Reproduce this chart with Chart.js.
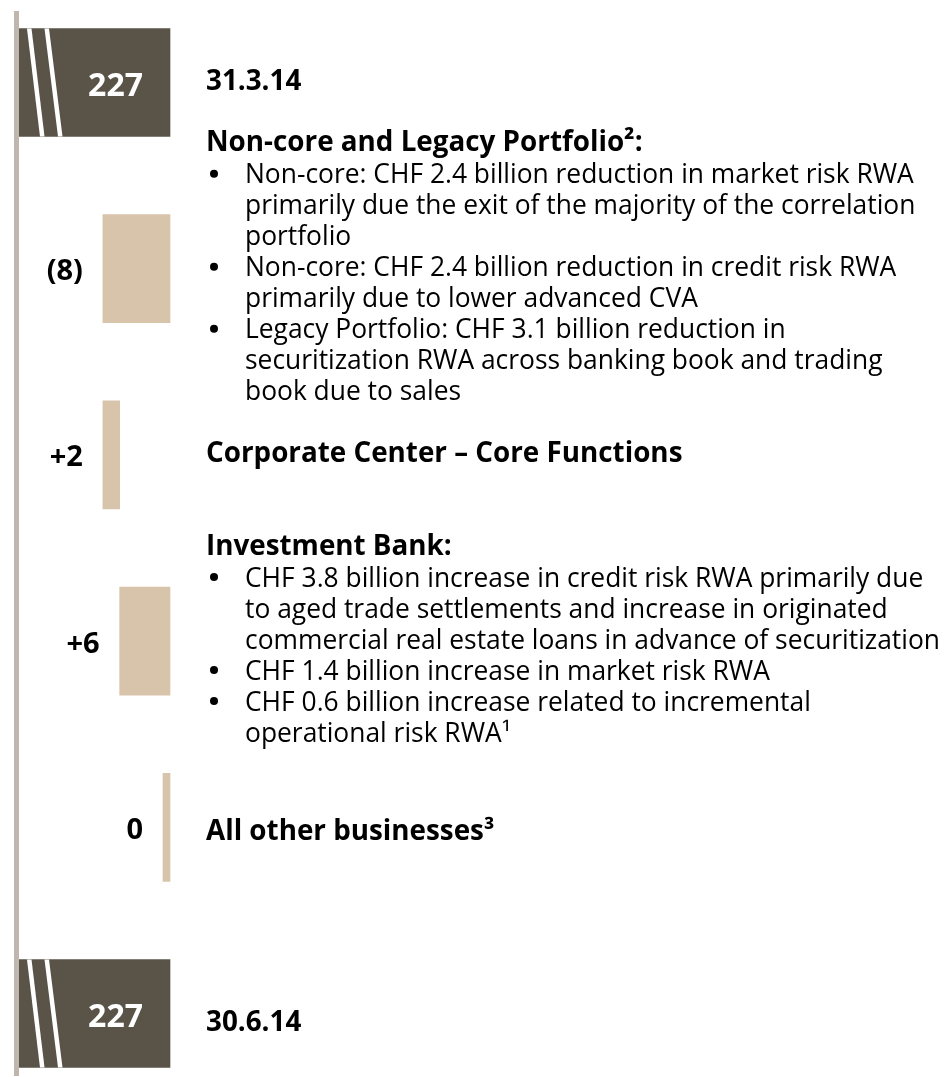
<!DOCTYPE html>
<html>
<head>
<meta charset="utf-8">
<script src="https://cdn.jsdelivr.net/npm/chart.js@4.4.1/dist/chart.umd.min.js"></script>
<style>
  html, body { margin: 0; padding: 0; background: #fff; }
  #wrap { position: relative; width: 946px; height: 1077px; }
</style>
</head>
<body>
<div id="wrap"><canvas id="rwa"></canvas></div>
<script>
// RWA movement 31.3.14 -> 30.6.14, CHF billion
const categories = ['31.3.14', 'Non-core and Legacy Portfolio', 'Corporate Center', 'Investment Bank', 'All other businesses', '30.6.14'];
const kinds = ['total', 'change', 'change', 'change', 'change', 'total'];
const values = [227, -8, 2, 6, 0, 227];
const valueLabels = ['227', '(8)', '+2', '+6', '0', '227'];
const axisStart = 209; // broken axis

const headings = [
  '31.3.14',
  'Non-core and Legacy Portfolio²:',
  'Corporate Center – Core Functions',
  'Investment Bank:',
  'All other businesses³',
  '30.6.14'
];
const bullets = [
  [],
  [
    ['Non-core: CHF 2.4 billion reduction in market risk RWA', 'primarily due the exit of the majority of the correlation', 'portfolio'],
    ['Non-core: CHF 2.4 billion reduction in credit risk RWA', 'primarily due to lower advanced CVA'],
    ['Legacy Portfolio: CHF 3.1 billion reduction in', 'securitization RWA across banking book and trading', 'book due to sales']
  ],
  [],
  [
    ['CHF 3.8 billion increase in credit risk RWA primarily due', 'to aged trade settlements and increase in originated', 'commercial real estate loans in advance of securitization'],
    ['CHF 1.4 billion increase in market risk RWA'],
    ['CHF 0.6 billion increase related to incremental', 'operational risk RWA¹']
  ],
  [],
  []
];

const totalColor = '#5a5348';
const changeColor = '#d7c4aa';
const lineColor = '#bfb6ae';
const FONT = '"Open Sans", "Noto Sans", sans-serif';
// small vertical nudges of the text blocks, as in the original slide
const textNudge = [0, 0, 0, 0, 6, 10];

// waterfall: totals are plain bars, changes float from the running total
let running = 0;
let zeroBase = null;
const barData = [];
const zeroData = [];
values.forEach((v, i) => {
  if (kinds[i] === 'total') {
    running = v;
    barData.push(v);
    zeroData.push(null);
  } else if (v === 0) {
    barData.push(null);
    zeroData.push(running);
    zeroBase = running;
  } else {
    barData.push([running, running + v]);
    zeroData.push(null);
    running += v;
  }
});
const axisEnd = Math.max(...values.filter((v, i) => kinds[i] === 'total'));

const clipSides = { left: 0, top: false, right: false, bottom: false };

function rowBar(chart, i) {
  const meta = chart.getDatasetMeta(barData[i] !== null ? 0 : 1);
  return meta.data[i].getProps(['x', 'y', 'base', 'height'], true);
}

const axisLine = {
  id: 'axisLine',
  beforeDatasetsDraw(chart) {
    const ctx = chart.ctx;
    ctx.save();
    ctx.fillStyle = lineColor;
    ctx.fillRect(chart.chartArea.left - 5, 11, 5, chart.height - 12);
    ctx.restore();
  }
};

const annotate = {
  id: 'annotate',
  afterDatasetsDraw(chart) {
    const ctx = chart.ctx;
    const area = chart.chartArea;
    ctx.save();

    categories.forEach((c, i) => {
      const b = rowBar(chart, i);
      const top = b.y - b.height / 2;
      const bottom = b.y + b.height / 2;

      if (kinds[i] === 'total') {
        // break marks
        const left = area.left;
        ctx.save();
        ctx.beginPath();
        ctx.rect(left, top, b.x - left, b.height);
        ctx.clip();
        ctx.strokeStyle = '#fff';
        ctx.lineWidth = 4.5;
        [[10, 23.5], [27.5, 41.5]].forEach(([a, z]) => {
          ctx.beginPath();
          ctx.moveTo(left + a, top - 2);
          ctx.lineTo(left + z, bottom + 2);
          ctx.stroke();
        });
        ctx.restore();

        ctx.fillStyle = '#fff';
        ctx.font = 'bold 32px ' + FONT;
        ctx.textAlign = 'right';
        ctx.textBaseline = 'alphabetic';
        ctx.fillText(valueLabels[i], b.x - 27, b.y + 13.5);
      } else {
        ctx.fillStyle = '#000';
        ctx.font = 'bold 29px ' + FONT;
        ctx.textAlign = 'right';
        ctx.textBaseline = 'alphabetic';
        ctx.fillText(valueLabels[i], Math.min(b.x, b.base) - 20, b.y + 11.5);
      }

      // description block, centred on the row
      const lines = [{ text: headings[i], bold: true, dy: 0 }];
      let dy = 0;
      bullets[i].forEach(bl => {
        bl.forEach((t, k) => {
          dy += lines.length === 1 ? 32 : 31;
          lines.push({ text: t, bold: false, dy, dot: k === 0 });
        });
      });
      const rowY = chart.scales.y.getPixelForValue(i);
      const y0 = rowY + 7 + textNudge[i] - dy / 2;
      const hx = area.right + 36;
      ctx.fillStyle = '#000';
      ctx.textAlign = 'left';
      ctx.textBaseline = 'alphabetic';
      lines.forEach(l => {
        const y = y0 + l.dy;
        if (l.bold) {
          ctx.font = 'bold 27.8px ' + FONT;
          ctx.fillText(l.text, hx, y);
        } else {
          ctx.font = '26.4px ' + FONT;
          if (l.dot) {
            ctx.beginPath();
            ctx.arc(area.right + 44, y - 9.5, 4, 0, Math.PI * 2);
            ctx.fill();
          }
          ctx.fillText(l.text, area.right + 75, y);
        }
      });
    });
    ctx.restore();
  }
};

new Chart(document.getElementById('rwa'), {
  type: 'bar',
  data: {
    labels: categories,
    datasets: [
      {
        data: barData,
        backgroundColor: kinds.map(k => k === 'total' ? totalColor : changeColor),
        barThickness: 108,
        grouped: false,
        clip: clipSides
      },
      {
        data: zeroData,
        base: zeroBase,
        minBarLength: 7,
        backgroundColor: changeColor,
        barThickness: 108,
        grouped: false,
        clip: clipSides
      }
    ]
  },
  options: {
    indexAxis: 'y',
    responsive: true,
    maintainAspectRatio: false,
    animation: false,
    layout: {
      padding: { left: 19, right: 776, top: 82.5, bottom: 63.5 }
    },
    plugins: {
      legend: { display: false },
      tooltip: { enabled: false }
    },
    scales: {
      x: { display: false, min: axisStart, max: axisEnd },
      y: { display: false, offset: false }
    }
  },
  plugins: [axisLine, annotate]
});
</script>
</body>
</html>
